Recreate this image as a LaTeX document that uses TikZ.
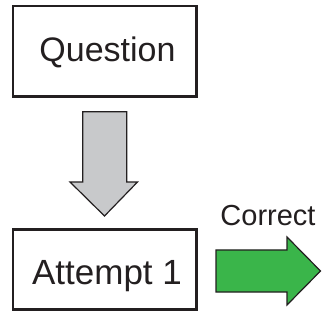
\documentclass[tikz,border=0pt]{standalone}
\usepackage{fontspec}
\setmainfont{Liberation Sans}
\definecolor{arrowgray}{RGB}{200,201,203}
\definecolor{arrowgreen}{RGB}{58,181,74}
\definecolor{inkc}{RGB}{35,31,32}
\begin{document}
\begin{tikzpicture}[x=1pt,y=-1pt,
  box/.style={draw=inkc,line width=2.3pt,minimum width=183.5pt,minimum height=#1,inner sep=0pt},
  lbl/.style={anchor=base,inner sep=0pt,text=inkc},
  blockarrow/.style={draw=inkc,line width=1.2pt,line join=miter}]
\useasboundingbox (0,0) rectangle (322,321);
\node[box=90.5pt] (question) at (104.75,51.25) {};
\node[box=80pt] (attempt) at (104.75,269.5) {};
\node[lbl,font=\fontsize{34}{36}\selectfont] (qtext) at (107.5,62) {Question};
\node[lbl,font=\fontsize{35}{37}\selectfont] (atext) at (107,284) {Attempt 1};
\node[lbl,font=\fontsize{29}{31}\selectfont] (ctext) at (268,225.5) {Correct};
\draw[blockarrow,fill=arrowgray] (82.7,111.7) -- (126.7,111.7) -- (126.7,182) -- (137.5,182)
  -- (104.5,216) -- (70,182) -- (82.7,182) -- cycle;
\draw[blockarrow,fill=arrowgreen] (216,250) -- (287,250) -- (287,237) -- (320.5,271)
  -- (287,305) -- (287,292) -- (216,292) -- cycle;
\end{tikzpicture}
\end{document}
